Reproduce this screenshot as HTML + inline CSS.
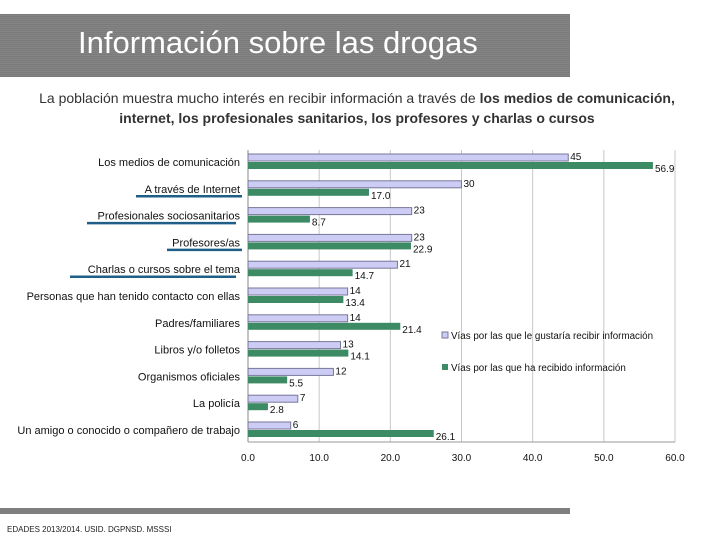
<!DOCTYPE html>
<html><head><meta charset="utf-8"><style>
body{margin:0;width:720px;height:540px;background:#fff;position:relative;overflow:hidden;font-family:"Liberation Sans",sans-serif}
#hdr{position:absolute;left:0;top:14px;width:570px;height:63px;background:repeating-linear-gradient(#7a7a7a 0 1px,#858585 1px 2px)}
#title{position:absolute;left:78px;top:25px;color:#fff;font-size:31px}
.sub{position:absolute;left:0;width:714px;text-align:center;font-size:14px;color:#333}
#foot{position:absolute;left:0;top:508px;width:570px;height:6px;background:#7f7f7f}
#src{position:absolute;left:7px;top:525px;font-size:8px;color:#222}
</style></head><body>
<div id="hdr"></div>
<div id="title">Información sobre las drogas</div>
<div class="sub" style="top:90px">La población muestra mucho interés en recibir información a través de <b>los medios de comunicación,</b></div>
<div class="sub" style="top:110px;font-weight:bold">internet, los profesionales sanitarios, los profesores y charlas o cursos</div>
<svg id="chart" width="720" height="540" style="position:absolute;left:0;top:0"></svg>
<div id="foot"></div>
<div id="src">EDADES 2013/2014. USID. DGPNSD. MSSSI</div>
<script>
const categories=["Los medios de comunicación","A través de Internet","Profesionales sociosanitarios","Profesores/as","Charlas o cursos sobre el tema","Personas que han tenido contacto con ellas","Padres/familiares","Libros y/o folletos","Organismos oficiales","La policía","Un amigo o conocido o compañero de trabajo"];
const wantValues=[45,30,23,23,21,14,14,13,12,7,6];
const gotValues=[56.9,17.0,8.7,22.9,14.7,13.4,21.4,14.1,5.5,2.8,26.1];
const tickLabels=["0.0","10.0","20.0","30.0","40.0","50.0","60.0"];
const underlined=[1,2,3,4];
const NS="http://www.w3.org/2000/svg";
const svg=document.getElementById('chart');
const x0=248,x1=675,xmax=60;
const xs=v=>x0+v/xmax*(x1-x0);
const rowTop=i=>154+i*26.8;
function el(t,a){const e=document.createElementNS(NS,t);for(const k in a)e.setAttribute(k,a[k]);svg.appendChild(e);return e;}
tickLabels.forEach((t,k)=>{const v=parseFloat(t);
 const g=el('line',{x1:xs(v),x2:xs(v),y1:150,y2:442,stroke:k==0?'#888':'#c8c8c8','stroke-width':1});
 
 
 const tx=el('text',{x:xs(v),y:461,'font-size':10,'text-anchor':'middle',fill:'#111'});tx.textContent=t;
 
 
});
const ax=el('line',{x1:x0,x2:x1,y1:442,y2:442,stroke:'#999'});


categories.forEach((c,i)=>{const t=rowTop(i);
 const lb=el('text',{x:240,y:t+12,'font-size':11,'text-anchor':'end',fill:'#111'});lb.textContent=c;
 
 
 const b1=el('rect',{x:x0,y:t,width:xs(wantValues[i])-x0,height:7,fill:'#ccccf5',stroke:'#77779a','stroke-width':1});
 
 
 const b2=el('rect',{x:x0,y:t+8,width:xs(gotValues[i])-x0,height:7,fill:'#3d8b64'});
 
 
 const l1=el('text',{x:xs(wantValues[i])+2,y:t+6,'font-size':10,fill:'#111'});l1.textContent=String(wantValues[i]);
 
 
 const l2=el('text',{x:xs(gotValues[i])+2,y:t+18,'font-size':10,fill:'#111'});l2.textContent=gotValues[i].toFixed(1);
 
 
});
const ul=[[136,242],[87,236],[167,242],[70,236]];
underlined.forEach((i,k)=>{const y=rowTop(i)+15.5;
 const u=el('line',{x1:ul[k][0],x2:ul[k][1],y1:y,y2:y,stroke:'#1f5f87','stroke-width':2.5});
 
 
});
[[336,'#ccccf5','#77779a','Vías por las que le gustaría recibir información'],[368,'#3d8b64','none','Vías por las que ha recibido información']].forEach(([y,f,s,t])=>{
 const r=el('rect',{x:442,y:y-4,width:6,height:6,fill:f,stroke:s});
 
 
 const tx=el('text',{x:451,y:y+3,'font-size':9.8,fill:'#111'});tx.textContent=t;
 
 
});
</script>
</body></html>
